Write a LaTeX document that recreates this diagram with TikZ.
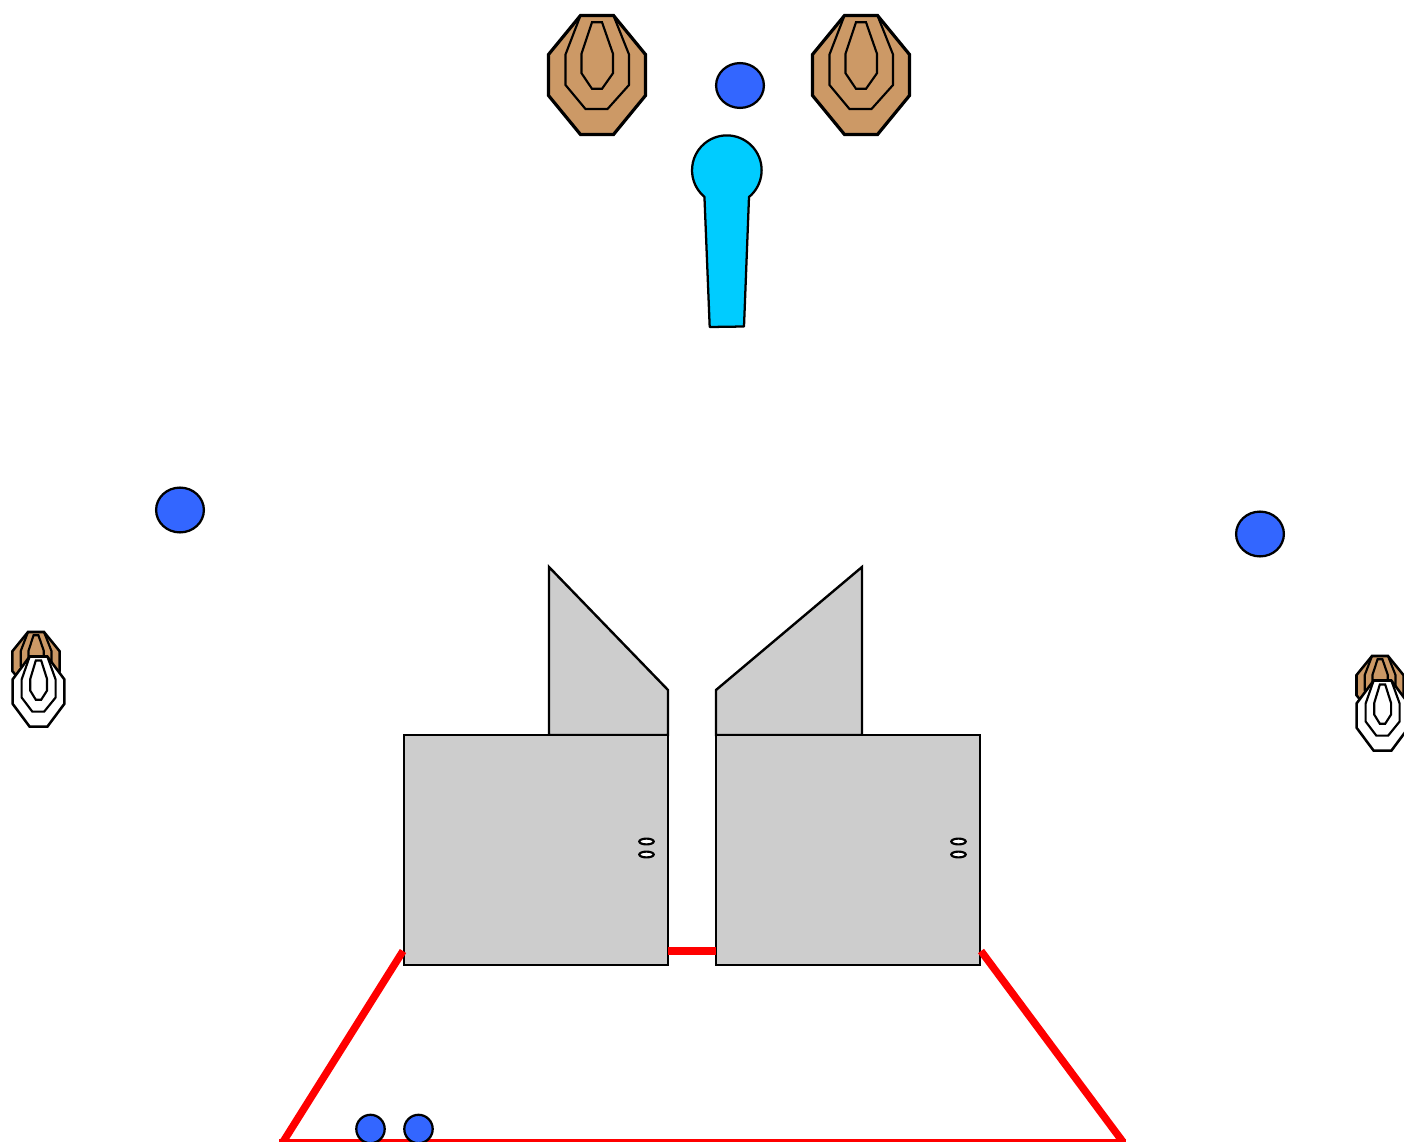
\documentclass[tikz,border=0pt]{standalone}
\tikzset{
  px/.style={x=0.75pt,y=-0.75pt},
  dot/.style={draw=black,line width=1.7pt,fill=shooter},
  barrier/.style={draw=black,line width=1.8pt,fill=wall,line join=miter},
  eyelet/.style={draw=black,line width=1.6pt,fill=white},
  fault/.style={draw=red,line cap=butt},
}
\definecolor{shooter}{HTML}{3366FF}
\definecolor{person}{HTML}{00CCFF}
\definecolor{cardboard}{HTML}{CC9966}
\definecolor{wall}{HTML}{CDCDCD}
% #1 centre x, #2 top y, #3 x scale, #4 y scale, #5 fill, #6 outer width
\newcommand{\shootTarget}[6]{%
  \begin{scope}[shift={(#1,#2)},xscale=#3,yscale=#4]
    \draw[draw=black,fill=#5,line width=#6,line join=miter]
      (-16.5,0) -- (16.5,0) -- (48.5,39) -- (48.5,80) -- (16.5,119) -- (-16.5,119) -- (-48.5,80) -- (-48.5,39) -- cycle;
    \draw[black,line width=1.6pt,line join=miter]
      (-16.5,0) -- (-31.5,39) -- (-31.5,69.5) -- (-11.5,93.5) -- (10.5,93.5) -- (32,69.5) -- (32,39) -- (16.5,0);
    \draw[black,line width=1.6pt,line join=miter]
      (-5,6.7) -- (5,6.7) -- (16,38.3) -- (16,57.7) -- (5,73.3) -- (-5,73.3) -- (-15.5,57.7) -- (-15.5,38.3) -- cycle;
  \end{scope}}
\begin{document}
\begin{tikzpicture}[px]
\useasboundingbox (0,0) rectangle (1404,1142);
\clip (0,0) rectangle (1404,1142);
% top targets
\shootTarget{597}{15.5}{1}{1}{cardboard}{2.4pt}
\shootTarget{861}{15.5}{1}{1}{cardboard}{2.4pt}
% blue markers
\draw[dot] (740,85.5) ellipse [x radius=23.9,y radius=22.4];
\draw[dot] (180,510) ellipse [x radius=23.9,y radius=22.4];
\draw[dot] (1260,534) ellipse [x radius=23.9,y radius=22.4];
% person
\draw[draw=black,line width=1.7pt,fill=person,line join=round]
  (749,197) arc [start angle=50.4,end angle=-230,radius=34.8] -- (709.7,327) -- (744,326.5) -- cycle;
% side targets
\shootTarget{36}{632}{0.485}{0.49}{cardboard}{1.9pt}
\shootTarget{38.5}{656.5}{0.535}{0.59}{white}{1.9pt}
\shootTarget{1380}{656}{0.485}{0.49}{cardboard}{1.9pt}
\shootTarget{1382.5}{680.5}{0.535}{0.59}{white}{1.9pt}
% walls
\draw[barrier] (549,735) -- (549,567) -- (668,690) -- (668,735) -- cycle;
\draw[barrier] (716,735) -- (716,690) -- (862,567) -- (862,735) -- cycle;
\draw[barrier] (404,735) rectangle (668,965);
\draw[barrier] (716,735) rectangle (980,965);
\draw[eyelet] (646.5,841.5) ellipse [x radius=7.2,y radius=2.9];
\draw[eyelet] (646.5,854.5) ellipse [x radius=7.2,y radius=2.9];
\draw[eyelet] (958.5,841.5) ellipse [x radius=7.2,y radius=2.9];
\draw[eyelet] (958.5,854.5) ellipse [x radius=7.2,y radius=2.9];
% fault lines
\draw[fault,line width=6pt] (668,951) -- (716,951);
\draw[fault,line width=5.6pt] (403,951) -- (283,1142);
\draw[fault,line width=5.6pt] (981,951) -- (1123,1142);
\draw[fault,line width=2.6pt] (279,1141) -- (1126,1141);
% shooting-box markers
\draw[dot] (370.5,1129) circle [radius=14.2];
\draw[dot] (418.5,1129) circle [radius=14.2];
\end{tikzpicture}
\end{document}
